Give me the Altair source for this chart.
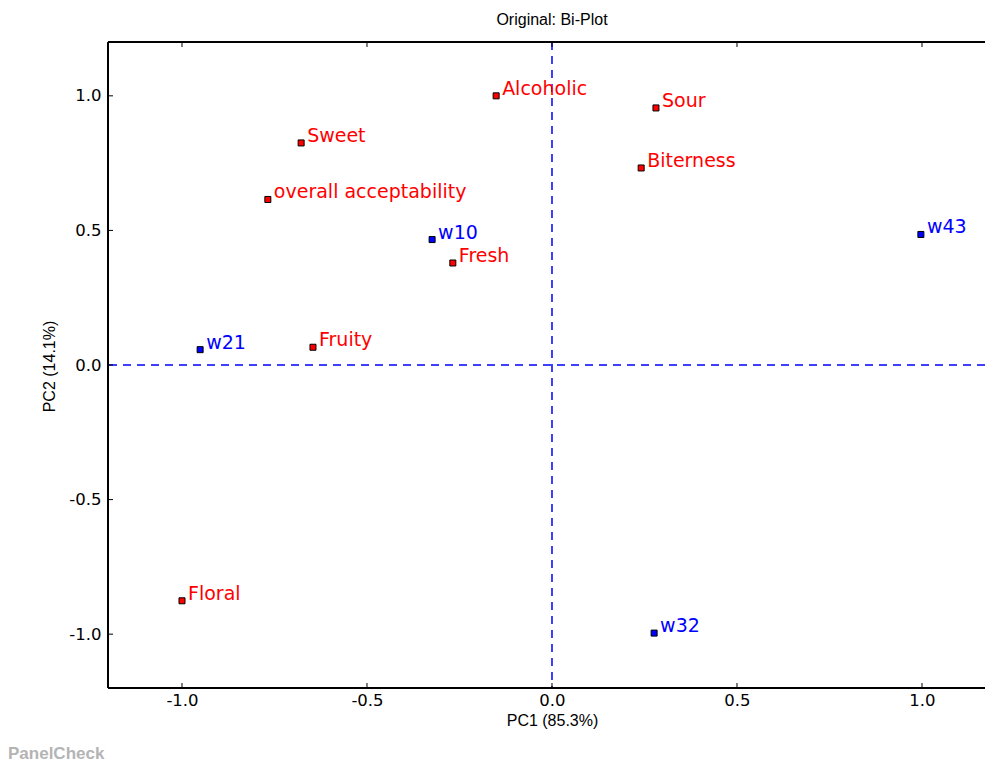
import altair as alt
import pandas as pd

# ---- data ----
attr_names = ["Alcoholic", "Sour", "Sweet", "overall acceptability", "Biterness",
              "Fresh", "Fruity", "Floral"]
attr_pc1 = [-0.151, 0.281, -0.678, -0.768, 0.241, -0.268, -0.646, -1.0]
attr_pc2 = [1.0, 0.955, 0.825, 0.615, 0.732, 0.379, 0.066, -0.876]

sample_names = ["w10", "w43", "w21", "w32"]
sample_pc1 = [-0.324, 0.997, -0.951, 0.276]
sample_pc2 = [0.466, 0.485, 0.057, -0.996]

tick_values = [-1.0, -0.5, 0.0, 0.5, 1.0]

W, H = 877, 646
SANS = "Liberation Sans, Arial"

df = pd.DataFrame({
    "name": attr_names + sample_names,
    "pc1": attr_pc1 + sample_pc1,
    "pc2": attr_pc2 + sample_pc2,
    "group": ["attribute"] * len(attr_names) + ["sample"] * len(sample_names),
})

label_expr = "datum.value < 0 ? '-' + format(-datum.value, '.1f') : format(datum.value, '.1f')"

xscale = alt.Scale(domain=[-1.2, 1.1703], nice=False, zero=False)
yscale = alt.Scale(domain=[-1.2, 1.2], nice=False, zero=False)

xaxis = alt.Axis(values=tick_values, labelExpr=label_expr, grid=False, domain=False,
                 ticks=False, labelFont="DejaVu Sans", labelFontSize=16.5, labelColor="black",
                 labelPadding=4, labelFlush=False, title="PC1 (85.3%)", titleFont=SANS,
                 titleFontSize=16, titleFontWeight="normal", titleColor="black",
                 titleX=444, titleY=32, titleBaseline="middle", titleAlign="center")
yaxis = alt.Axis(values=tick_values, labelExpr=label_expr, grid=False, domain=False,
                 ticks=False, labelFont="DejaVu Sans", labelFontSize=16.5, labelColor="black",
                 labelPadding=7, labelFlush=False, title="PC2 (14.1%)", titleFont=SANS,
                 titleFontSize=16, titleFontWeight="normal", titleColor="black",
                 titleX=-59, titleY=324, titleAngle=-90, titleBaseline="middle",
                 titleAlign="center")

color = alt.Color("group:N", scale=alt.Scale(domain=["attribute", "sample"],
                                             range=["#ff0000", "#0000ff"]), legend=None)

base = alt.Chart(df)

points = base.mark_square(size=36, stroke="black", strokeWidth=1, opacity=1,
                          filled=True).encode(
    x=alt.X("pc1:Q", scale=xscale, axis=xaxis),
    y=alt.Y("pc2:Q", scale=yscale, axis=yaxis),
    fill=color,
)

labels = base.mark_text(align="left", baseline="alphabetic", dx=6, dy=-1,
                        font="DejaVu Sans", fontSize=19).encode(
    x=alt.X("pc1:Q", scale=xscale),
    y=alt.Y("pc2:Q", scale=yscale),
    color=color,
    text="name:N",
)

zero_df = pd.DataFrame({"v": [0.0]})
vline = alt.Chart(zero_df).mark_rule(color="#0000ff", strokeWidth=1.5,
                                     strokeDash=[8, 6]).encode(x=alt.X("v:Q", scale=xscale))
hline = alt.Chart(zero_df).mark_rule(color="#0000ff", strokeWidth=1.5,
                                     strokeDash=[8, 6]).encode(y=alt.Y("v:Q", scale=yscale))

ticks_df = pd.DataFrame({"t": tick_values})
tick_style = dict(color="black", strokeWidth=1)
xt_bottom = alt.Chart(ticks_df).mark_rule(**tick_style).encode(
    x=alt.X("t:Q", scale=xscale), y=alt.value(H), y2=alt.value(H - 5))
xt_top = alt.Chart(ticks_df).mark_rule(**tick_style).encode(
    x=alt.X("t:Q", scale=xscale), y=alt.value(0), y2=alt.value(5))
yt_left = alt.Chart(ticks_df).mark_rule(**tick_style).encode(
    y=alt.Y("t:Q", scale=yscale), x=alt.value(0), x2=alt.value(5))

frame_style = dict(color="black", strokeWidth=2)
f_top = alt.Chart(zero_df).mark_rule(**frame_style).encode(
    x=alt.value(0), x2=alt.value(W), y=alt.value(0))
f_bottom = alt.Chart(zero_df).mark_rule(**frame_style).encode(
    x=alt.value(0), x2=alt.value(W), y=alt.value(H))
f_left = alt.Chart(zero_df).mark_rule(**frame_style).encode(
    x=alt.value(0), y=alt.value(0), y2=alt.value(H))

title_txt = alt.Chart(pd.DataFrame({"t": ["Original: Bi-Plot"]})).mark_text(
    align="center", baseline="alphabetic", font=SANS, fontSize=16,
    color="black").encode(x=alt.value(444), y=alt.value(-17), text="t:N")

brand = alt.Chart(pd.DataFrame({"t": ["PanelCheck"]})).mark_text(
    align="left", baseline="alphabetic", font="Liberation Sans", fontWeight="bold",
    fontSize=17, color="#b4b4b4").encode(
    x=alt.value(-100), y=alt.value(H + 71), text="t:N")

chart = alt.layer(
    vline, hline, xt_bottom, xt_top, yt_left, f_top, f_bottom, f_left,
    points, labels, title_txt, brand
).properties(
    width=W, height=H,
    autosize=alt.AutoSizeParams(type="none"),
    padding={"left": 108, "top": 42, "right": 0, "bottom": 74},
).configure_view(stroke=None).configure(background="white")

chart.save("out.html", embed_options={"renderer": "svg", "actions": False})
